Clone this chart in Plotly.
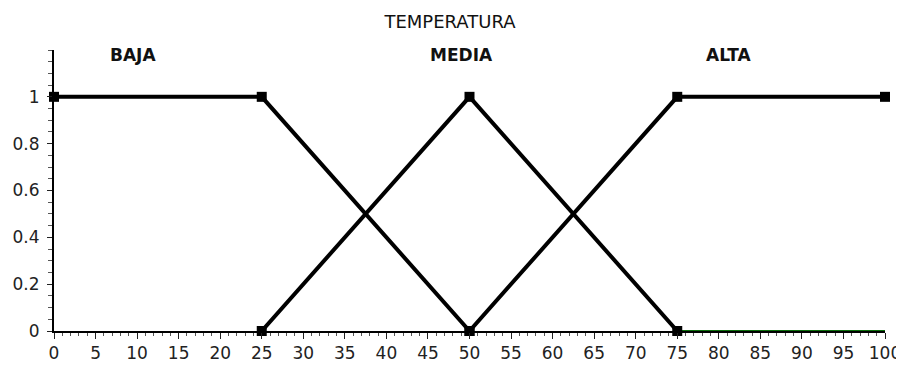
import plotly.graph_objects as go

# Data
baja_x = [0, 25, 50]
baja_y = [1, 1, 0]
media_x = [25, 50, 75]
media_y = [0, 1, 0]
alta_x = [50, 75, 100]
alta_y = [0, 1, 1]
zero_x = [75, 100]
zero_y = [0, 0]
set_names = ["BAJA", "MEDIA", "ALTA"]
set_label_x = [9.5, 49.0, 81.2]
set_label_y = [1.18, 1.18, 1.18]
x_ticks = list(range(0, 101, 5))
y_ticks = [0, 0.2, 0.4, 0.6, 0.8, 1]
y_tick_text = ["0", "0.2", "0.4", "0.6", "0.8", "1"]

FONT = "DejaVu Sans, Liberation Sans, Arial"

fig = go.Figure()
fig.add_trace(go.Scatter(x=zero_x, y=zero_y, mode="lines",
                         line=dict(color="#0b6e0b", width=2), hoverinfo="skip"))
for xs, ys in [(baja_x, baja_y), (media_x, media_y), (alta_x, alta_y)]:
    fig.add_trace(go.Scatter(x=xs, y=ys, mode="lines+markers",
                             line=dict(color="black", width=4),
                             marker=dict(symbol="square", size=10, color="black"),
                             cliponaxis=False))

for name, lx, ly in zip(set_names, set_label_x, set_label_y):
    fig.add_annotation(x=lx, y=ly, text="<b>" + name + "</b>", showarrow=False,
                       font=dict(family=FONT, size=17, color="#111"),
                       xanchor="center", yanchor="middle")

# page body has an 8px margin; figure is sized so the plot area lands at
# x 54..885, y 50..331 of the 904x365 window
fig.update_layout(
    width=896, height=357,
    margin=dict(l=46, r=19, t=42, b=34, pad=0),
    paper_bgcolor="white", plot_bgcolor="white",
    showlegend=False,
    title=dict(text="TEMPERATURA", x=0.4933, xanchor="center", y=0.961, yanchor="middle",
               font=dict(family=FONT, size=18, color="#111")),
    xaxis=dict(range=[0, 100], tickvals=x_ticks, ticks="outside", ticklen=6,
               tickcolor="#222", showline=True, linecolor="black", linewidth=2,
               showgrid=False, zeroline=False, automargin=False,
               tickfont=dict(family=FONT, size=17, color="#222"),
               minor=dict(dtick=1, tick0=0, ticks="outside", ticklen=3, tickcolor="#555")),
    yaxis=dict(range=[0, 1.2], tickvals=y_ticks, ticktext=y_tick_text, ticks="outside",
               ticklen=5, tickcolor="#222", showline=True, linecolor="black",
               linewidth=2, showgrid=False, zeroline=False, automargin=False,
               ticklabelstandoff=4,
               tickfont=dict(family=FONT, size=17, color="#222"),
               minor=dict(dtick=0.05, tick0=0, ticks="outside", ticklen=4, tickcolor="#555")),
)

fig.write_html("out.html")
